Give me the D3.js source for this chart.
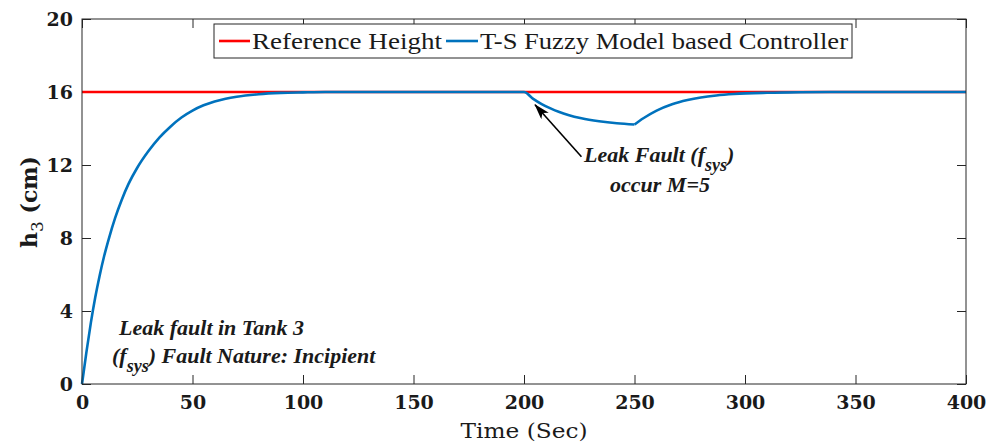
<!DOCTYPE html>
<html>
<head>
<meta charset="utf-8">
<script src="https://cdn.jsdelivr.net/npm/d3@7"></script>
<style>
  body { margin: 0; background: #fff; }
  text { font-family: "Liberation Serif", serif; fill: #1a1a1a; }
</style>
</head>
<body>
<div id="chart"></div>
<script>
// data
let timeSec = [0, 2, 4, 6, 8, 10, 12, 15, 18, 21, 25, 30, 35, 40, 45, 50, 55, 60, 65, 70, 80, 90, 100, 110, 200,
               204, 208, 212, 216, 220, 226, 234, 242, 250,
               254, 260, 267, 274, 280, 287, 295, 310, 325, 340, 400]
let h3Ctrl = [0, 1.75, 3.35, 4.75, 5.95, 7.0, 7.9, 9.1, 10.1, 10.95, 11.85, 12.75, 13.5, 14.1, 14.6, 14.98, 15.27, 15.48, 15.63, 15.74, 15.88, 15.95, 15.98, 16, 16,
              15.64, 15.34, 15.1, 14.9, 14.74, 14.56, 14.4, 14.29, 14.22,
              14.56, 14.98, 15.33, 15.56, 15.7, 15.81, 15.89, 15.96, 15.99, 16, 16]
let refTime = [0, 400]
let refHeight = [16, 16]
let faultEnd = 250
let xTicks = [0, 50, 100, 150, 200, 250, 300, 350, 400]
let yTicks = [0, 4, 8, 12, 16, 20]
let seriesNames = ["Reference Height", "T-S Fuzzy Model based Controller"]
let seriesColors = ["#ff0000", "#0072bd"]

// size of the graph
let width = 989,
    height = 444,
    margin = {top: 19, right: 23, bottom: 60, left: 82}

let svg = d3.select("#chart")
  .append("svg")
    .attr("width", width)
    .attr("height", height)

let x = d3.scaleLinear().domain([0, 400]).range([margin.left, width - margin.right])
let y = d3.scaleLinear().domain([0, 20]).range([height - margin.bottom, margin.top])

let tickColor = "#262626"

// axes with inward ticks, mirrored on top and right
function styleAxis(g) {
  g.select(".domain").remove()
  g.selectAll(".tick line").attr("stroke", tickColor)
  g.selectAll(".tick text")
    .style("font-family", "'DejaVu Serif', serif")
    .style("font-weight", "bold")
    .style("font-size", "19px")
    .attr("fill", "#1a1a1a")
}

svg.append("g")
  .attr("transform", "translate(0," + y(0) + ")")
  .call(d3.axisBottom(x).tickValues(xTicks).tickSizeInner(-9).tickSizeOuter(0).tickPadding(12))
  .call(styleAxis)

svg.append("g")
  .attr("transform", "translate(" + x(0) + ",0)")
  .call(d3.axisLeft(y).tickValues(yTicks).tickSizeInner(-9).tickSizeOuter(0).tickPadding(9))
  .call(styleAxis)

svg.append("g")
  .attr("transform", "translate(0," + y(20) + ")")
  .call(d3.axisTop(x).tickValues(xTicks).tickSizeInner(-9).tickSizeOuter(0).tickFormat(""))
  .call(styleAxis)

svg.append("g")
  .attr("transform", "translate(" + x(400) + ",0)")
  .call(d3.axisRight(y).tickValues(yTicks).tickSizeInner(-9).tickSizeOuter(0).tickFormat(""))
  .call(styleAxis)

// lines
let line = d3.line()
  .x(function(d) { return x(d[0]) })
  .y(function(d) { return y(d[1]) })

let refData = d3.zip(refTime, refHeight)
let ctrlData = d3.zip(timeSec, h3Ctrl)
// split where the fault is removed so the corner stays sharp
let ctrlParts = [
  ctrlData.filter(function(d) { return d[0] <= faultEnd }),
  ctrlData.filter(function(d) { return d[0] >= faultEnd })
]

svg.append("path")
  .datum(refData)
  .attr("fill", "none")
  .attr("stroke", seriesColors[0])
  .attr("stroke-width", 2.6)
  .attr("d", line)

svg.selectAll(".ctrl")
  .data(ctrlParts)
  .enter()
  .append("path")
    .attr("class", "ctrl")
    .attr("fill", "none")
    .attr("stroke", seriesColors[1])
    .attr("stroke-width", 2.6)
    .attr("stroke-linejoin", "round")
    .attr("d", line.curve(d3.curveMonotoneX))

// box
svg.append("rect")
  .attr("x", x(0))
  .attr("y", y(20))
  .attr("width", x(400) - x(0))
  .attr("height", y(0) - y(20))
  .attr("fill", "none")
  .attr("stroke", tickColor)
  .attr("stroke-width", 1)

// axis labels
svg.append("text")
  .attr("x", (x(0) + x(400)) / 2)
  .attr("y", 438)
  .attr("text-anchor", "middle")
  .style("font-family", "'DejaVu Serif', serif")
  .style("font-size", "21px")
  .attr("textLength", 127)
  .attr("lengthAdjust", "spacingAndGlyphs")
  .text("Time (Sec)")

let yLab = svg.append("text")
  .attr("transform", "translate(37," + 202 + ") rotate(-90)")
  .attr("text-anchor", "middle")
  .style("font-family", "'DejaVu Serif', serif")
  .style("font-weight", "bold")
  .style("font-size", "22px")
yLab.append("tspan").text("h")
yLab.append("tspan").attr("dy", 6).style("font-size", "17px").style("font-weight", "normal").text("3")
yLab.append("tspan").attr("dy", -6).text(" (cm)")

// legend
let legend = svg.append("g")
legend.append("rect")
  .attr("x", 214).attr("y", 24).attr("width", 638).attr("height", 34)
  .attr("fill", "#fff").attr("stroke", tickColor).attr("stroke-width", 1)

let legendItems = [
  {x0: 219, x1: 250, tx: 252, tw: 190},
  {x0: 446, x1: 478, tx: 480, tw: 368}
]
legendItems.forEach(function(it, i) {
  legend.append("line")
    .attr("x1", it.x0).attr("x2", it.x1).attr("y1", 41).attr("y2", 41)
    .attr("stroke", seriesColors[i]).attr("stroke-width", 2.6)
  legend.append("text")
    .attr("x", it.tx).attr("y", 49)
    .style("font-size", "23px")
    .attr("textLength", it.tw)
    .attr("lengthAdjust", "spacingAndGlyphs")
    .text(seriesNames[i])
})

// annotations
function annot(tx, ty, parts) {
  let t = svg.append("text")
    .attr("x", tx).attr("y", ty)
    .style("font-weight", "bold")
    .style("font-style", "italic")
    .style("font-size", "22px")
  parts.forEach(function(p) {
    let s = t.append("tspan").text(p.text)
    if (p.dy) s.attr("dy", p.dy)
    if (p.sub) s.style("font-size", "18px")
  })
  return t
}

annot(584, 162, [{text: "Leak Fault (f"}, {text: "sys", dy: 9, sub: true}, {text: ")", dy: -9}])
annot(610, 192, [{text: "occur M=5"}])
annot(119, 335, [{text: "Leak fault in Tank 3"}])
annot(112, 363, [{text: "(f"}, {text: "sys", dy: 9, sub: true}, {text: ") Fault Nature: Incipient", dy: -9}])

// arrow pointing at the fault start
svg.append("defs").append("marker")
  .attr("id", "head")
  .attr("viewBox", "0 0 16 10")
  .attr("refX", 15).attr("refY", 5)
  .attr("markerWidth", 16).attr("markerHeight", 10)
  .attr("markerUnits", "userSpaceOnUse")
  .attr("orient", "auto")
  .append("path")
    .attr("d", "M0,0 L16,5 L0,10 L4,5 Z")
    .attr("fill", "#000")

svg.append("line")
  .attr("x1", x(226)).attr("y1", y(12.45))
  .attr("x2", x(205)).attr("y2", y(15.3))
  .attr("stroke", "#000")
  .attr("stroke-width", 1.6)
  .attr("marker-end", "url(#head)")
</script>
</body>
</html>
